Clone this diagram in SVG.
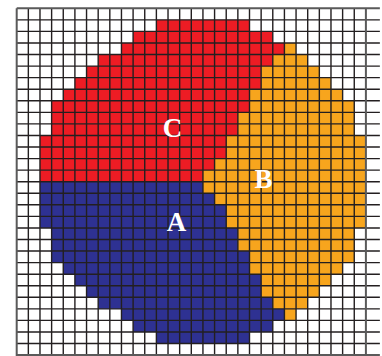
<svg xmlns="http://www.w3.org/2000/svg" width="382" height="356" viewBox="0 0 382 356">
<style>
.red rect{fill:#ED1C24}
.orange rect{fill:#F7A51D}
.blue rect{fill:#2E3192}
.grid{fill:none;stroke:#231F20;stroke-width:1.4}
.border{fill:none;stroke:#5A5A5A;stroke-width:2}
.lbl{font-family:"Liberation Serif","Times New Roman",serif;font-weight:bold;font-size:27px;fill:#FFFFFF;text-anchor:middle}
</style>
<rect width="382" height="356" fill="#FFFFFF"/>
<g transform="translate(16.7 8.3) scale(11.64 11.56)">
<g id="region-C" class="red">
<rect x="12" y="1" width="8" height="1"/><rect x="10" y="2" width="12" height="1"/><rect x="9" y="3" width="14" height="1"/><rect x="7" y="4" width="15" height="1"/><rect x="6" y="5" width="15" height="1"/><rect x="5" y="6" width="16" height="1"/><rect x="4" y="7" width="16" height="1"/><rect x="3" y="8" width="17" height="1"/><rect x="3" y="9" width="16" height="1"/><rect x="3" y="10" width="16" height="1"/><rect x="2" y="11" width="16" height="1"/><rect x="2" y="12" width="16" height="1"/><rect x="2" y="13" width="15" height="1"/><rect x="2" y="14" width="14" height="1"/>
</g>
<g id="region-B" class="orange">
<rect x="23" y="3" width="1" height="1"/><rect x="22" y="4" width="3" height="1"/><rect x="21" y="5" width="5" height="1"/><rect x="21" y="6" width="6" height="1"/><rect x="20" y="7" width="8" height="1"/><rect x="20" y="8" width="9" height="1"/><rect x="19" y="9" width="10" height="1"/><rect x="19" y="10" width="10" height="1"/><rect x="18" y="11" width="12" height="1"/><rect x="18" y="12" width="12" height="1"/><rect x="17" y="13" width="13" height="1"/><rect x="16" y="14" width="14" height="1"/><rect x="16" y="15" width="14" height="1"/><rect x="17" y="16" width="13" height="1"/><rect x="18" y="17" width="12" height="1"/><rect x="18" y="18" width="12" height="1"/><rect x="19" y="19" width="10" height="1"/><rect x="19" y="20" width="10" height="1"/><rect x="20" y="21" width="9" height="1"/><rect x="20" y="22" width="8" height="1"/><rect x="21" y="23" width="6" height="1"/><rect x="21" y="24" width="5" height="1"/><rect x="22" y="25" width="3" height="1"/><rect x="23" y="26" width="1" height="1"/>
</g>
<g id="region-A" class="blue">
<rect x="2" y="15" width="14" height="1"/><rect x="2" y="16" width="15" height="1"/><rect x="2" y="17" width="16" height="1"/><rect x="2" y="18" width="16" height="1"/><rect x="3" y="19" width="16" height="1"/><rect x="3" y="20" width="16" height="1"/><rect x="3" y="21" width="17" height="1"/><rect x="4" y="22" width="16" height="1"/><rect x="5" y="23" width="16" height="1"/><rect x="6" y="24" width="15" height="1"/><rect x="7" y="25" width="15" height="1"/><rect x="9" y="26" width="14" height="1"/><rect x="10" y="27" width="12" height="1"/><rect x="12" y="28" width="8" height="1"/>
</g>
<g id="grid">
<path class="grid" vector-effect="non-scaling-stroke" d="M1 0V30.2M2 0V30.2M3 0V30.2M4 0V30.2M5 0V30.2M6 0V30.2M7 0V30.2M8 0V30.2M9 0V30.2M10 0V30.2M11 0V30.2M12 0V30.2M13 0V30.2M14 0V30.2M15 0V30.2M16 0V30.2M17 0V30.2M18 0V30.2M19 0V30.2M20 0V30.2M21 0V30.2M22 0V30.2M23 0V30.2M24 0V30.2M25 0V30.2M26 0V30.2M27 0V30.2M28 0V30.2M29 0V30.2M0 1H31.2M0 2H31.2M0 3H31.2M0 4H31.2M0 5H31.2M0 6H31.2M0 7H31.2M0 8H31.2M0 9H31.2M0 10H31.2M0 11H31.2M0 12H31.2M0 13H31.2M0 14H31.2M0 15H31.2M0 16H31.2M0 17H31.2M0 18H31.2M0 19H31.2M0 20H31.2M0 21H31.2M0 22H31.2M0 23H31.2M0 24H31.2M0 25H31.2M0 26H31.2M0 27H31.2M0 28H31.2M0 29H31.2"/>
<path class="border" vector-effect="non-scaling-stroke" d="M0 0V30.2M30 0V30.2M0 0H31.2M0 30H31.2"/>
</g>
</g>
<g id="labels">
<text id="label-C" class="lbl" x="172.5" y="136.5">C</text>
<text id="label-B" class="lbl" x="263.5" y="188">B</text>
<text id="label-A" class="lbl" x="176.5" y="231">A</text>
</g>
</svg>
